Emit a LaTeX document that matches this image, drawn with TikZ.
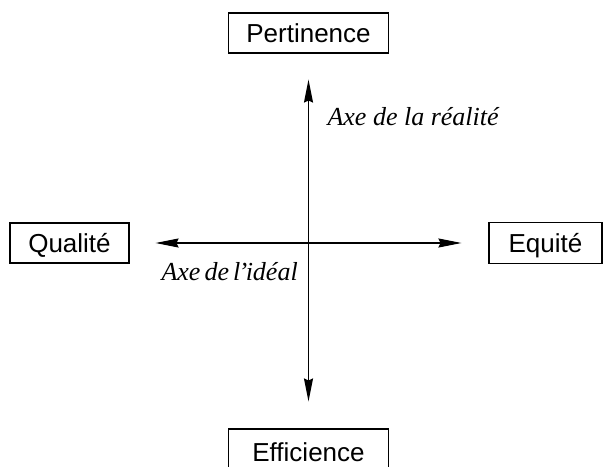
\documentclass[tikz,border=0pt]{standalone}
\usepackage{fontspec}
\setmainfont{Liberation Serif}
\setsansfont{Liberation Sans}
\usetikzlibrary{arrows.meta}

\begin{document}
\begin{tikzpicture}[x=0.5pt, y=-0.5pt, line width=0.55pt,
  every node/.style={inner sep=0pt, text height=9.3pt, text depth=0pt},
  pole/.style={draw, rectangle, font=\sffamily\fontsize{13}{15}\selectfont},
  axe/.style={{Stealth[length=11.5pt, width=4.5pt, inset=1pt]}-{Stealth[length=11.5pt, width=4.5pt, inset=1pt]},
    shorten <=13pt, shorten >=13.5pt},
  axetext/.style={font=\itshape\fontsize{13}{15}\selectfont, text height=, text depth=}]
  \useasboundingbox (0,0) rectangle (603,466);
  \clip (0,0) rectangle (603,466);

  \node[pole, minimum width=80pt, minimum height=20pt] (pert) at (308.5,33) {Pertinence};
  \node[pole, minimum width=80pt, minimum height=23pt] (eff) at (308.5,452) {Efficience};
  \node[pole, minimum width=59.5pt, minimum height=20pt] (qual) at (69.5,243) {Qualité};
  \node[pole, minimum width=56.5pt, minimum height=20.5pt] (equi) at (545.5,243) {Equité};

  \draw[axe] (pert) -- (eff);
  \draw[axe] (qual) -- (equi);

  \node[axetext, anchor=base west] (reel) at (327,125) {Axe de la réalité};
  \node[axetext, anchor=base west] (ideal) at (161,280)
    {Axe\hspace{2pt}de\hspace{2pt}l\kern-0.8pt’\kern-0.8pt idéal};
\end{tikzpicture}
\end{document}
